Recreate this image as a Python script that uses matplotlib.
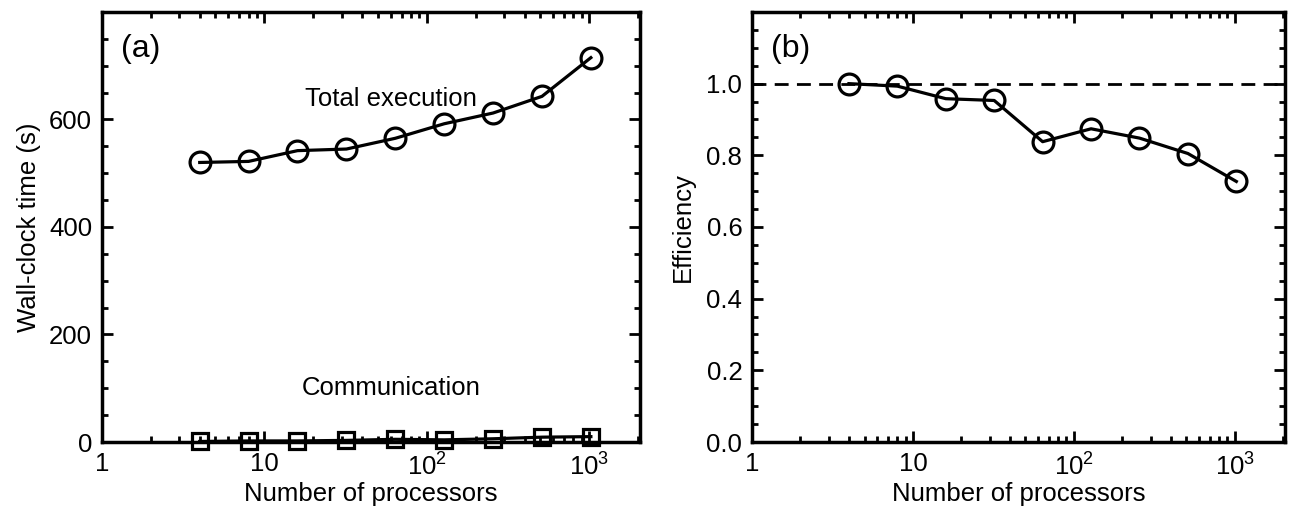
import matplotlib
matplotlib.use("Agg")
import matplotlib.pyplot as plt
from matplotlib.ticker import FixedLocator, FixedFormatter, MultipleLocator, LogLocator, NullFormatter

plt.rcParams['font.family'] = ['Liberation Sans', 'DejaVu Sans']
plt.rcParams['mathtext.fontset'] = 'custom'
plt.rcParams['mathtext.rm'] = 'Liberation Sans'

processors = [4, 8, 16, 32, 64, 128, 256, 512, 1024]
total_time = [520, 522, 542, 545, 565, 592, 612, 643, 715]
comm_time = [1, 2, 2, 3, 5, 4, 6, 9, 10]
efficiency = [1.0, 0.993, 0.958, 0.953, 0.838, 0.874, 0.848, 0.805, 0.727]
xtick_vals = [1, 10, 100, 1000]
xtick_labels = ['1', '10', r'$10^2$', r'$10^3$']

fig = plt.figure(figsize=(12.9, 5.2), dpi=100)
axA = fig.add_axes([0.079, 0.150, 0.417, 0.827])
axB = fig.add_axes([0.583, 0.150, 0.413, 0.827])

fs = 18.5
for ax in (axA, axB):
    ax.set_xscale('log')
    ax.set_xlim(1, 2050)
    ax.xaxis.set_major_locator(FixedLocator(xtick_vals))
    ax.xaxis.set_major_formatter(FixedFormatter(xtick_labels))
    ax.xaxis.set_minor_locator(LogLocator(base=10, subs=range(2, 10)))
    ax.xaxis.set_minor_formatter(NullFormatter())
    ax.tick_params(which='both', direction='in', top=True, right=True, width=2)
    ax.tick_params(which='major', length=8, labelsize=fs, pad=7)
    ax.tick_params(which='minor', length=4)
    for s in ax.spines.values():
        s.set_linewidth(2.5)
    ax.set_xlabel('Number of processors', fontsize=fs, labelpad=2)

# Panel (a)
axA.plot(processors, total_time, 'k-', lw=2.3, marker='o', ms=15, mfc='none', mec='k', mew=2.3)
axA.plot(processors, comm_time, 'k-', lw=2.3, marker='s', ms=12, mfc='none', mec='k', mew=2.3, clip_on=False)
axA.set_ylim(0, 800)
axA.yaxis.set_major_locator(FixedLocator([0, 200, 400, 600]))
axA.yaxis.set_minor_locator(MultipleLocator(50))
axA.set_ylabel('Wall-clock time (s)', fontsize=fs, labelpad=6)
axA.text(0.035, 0.915, '(a)', transform=axA.transAxes, fontsize=23, ha='left', va='center')
axA.text(60, 638, 'Total execution', fontsize=fs, ha='center', va='center')
axA.text(60, 100, 'Communication', fontsize=fs, ha='center', va='center')

# Panel (b)
axB.axhline(1.0, color='k', lw=2, ls=(0, (5, 3)))
axB.plot(processors, efficiency, 'k-', lw=2.3, marker='o', ms=15, mfc='none', mec='k', mew=2.3)
axB.set_ylim(0, 1.2)
axB.yaxis.set_major_locator(FixedLocator([0.0, 0.2, 0.4, 0.6, 0.8, 1.0]))
axB.yaxis.set_major_formatter(FixedFormatter(['0.0', '0.2', '0.4', '0.6', '0.8', '1.0']))
axB.yaxis.set_minor_locator(MultipleLocator(0.05))
axB.set_ylabel('Efficiency', fontsize=fs, labelpad=8)
axB.text(0.035, 0.915, '(b)', transform=axB.transAxes, fontsize=23, ha='left', va='center')

fig.savefig('out.png', dpi=100)
